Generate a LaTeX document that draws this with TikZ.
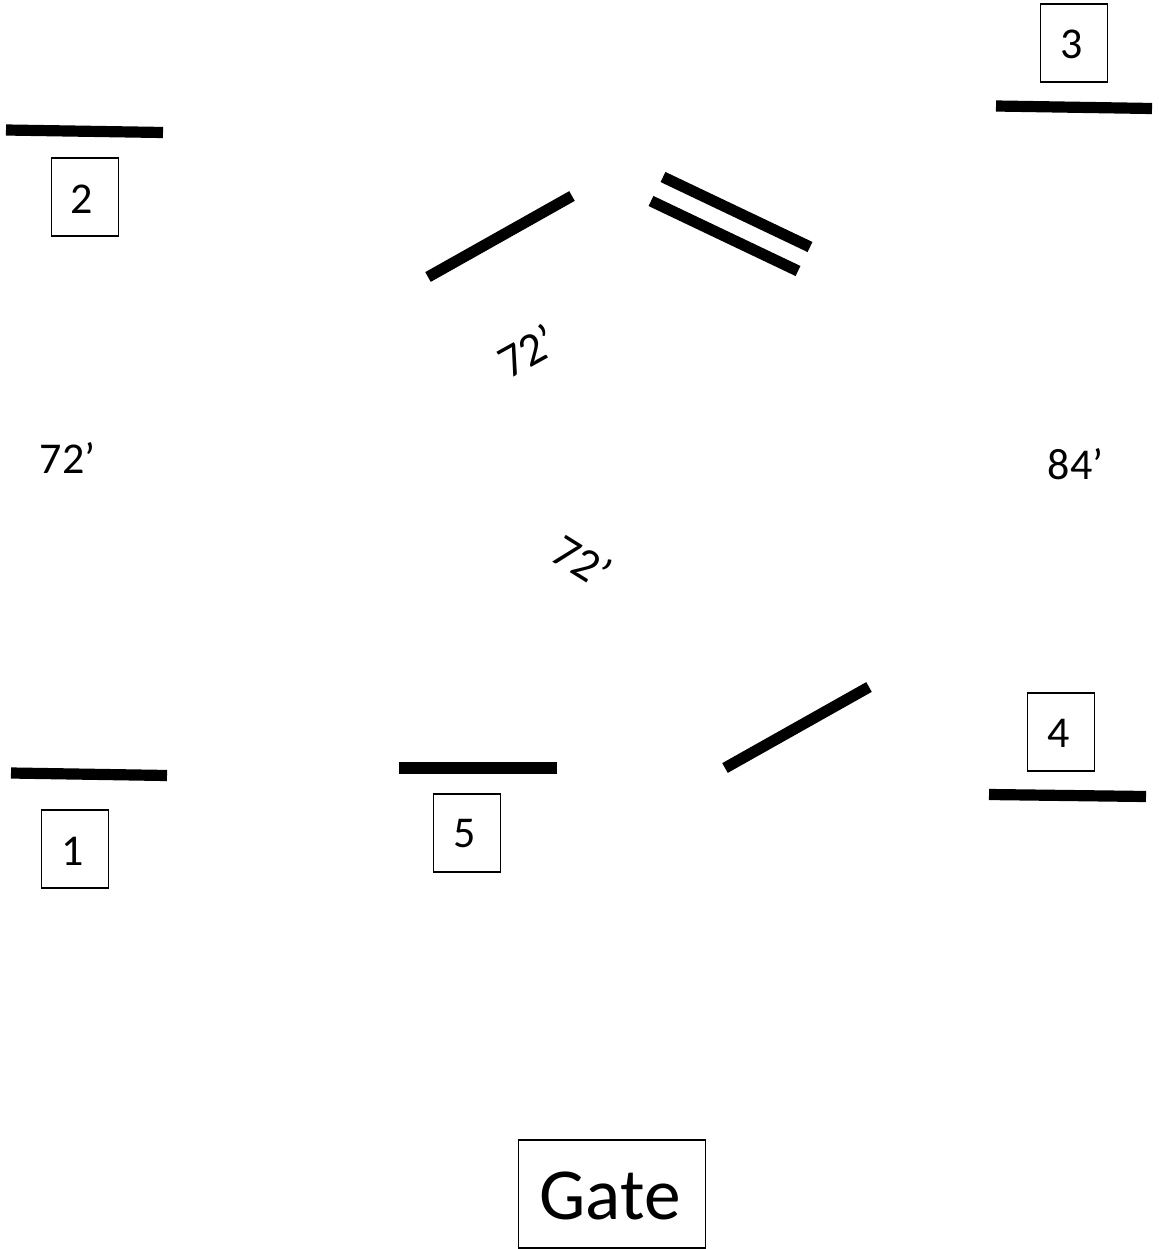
\documentclass[tikz,border=0pt]{standalone}
\usepackage{fontspec}
\setmainfont{Carlito}
\tikzset{
  bar/.style={line width=8.4pt,black},
  numbox/.style={draw=black,line width=1pt,minimum width=50pt,minimum height=58.5pt,inner sep=0pt},
  numtext/.style={inner sep=0pt,font=\fontsize{33}{40}\selectfont},
  gatebox/.style={draw=black,line width=1pt,minimum width=140pt,minimum height=81pt,inner sep=0pt},
  gatetext/.style={inner sep=0pt,font=\fontsize{55}{66}\selectfont},
  dim/.style={inner sep=0pt,font=\fontsize{33}{40}\selectfont},
  dimbig/.style={inner sep=0pt,font=\fontsize{35}{42}\selectfont}
}
\begin{document}
\begin{tikzpicture}[x=0.75pt,y=-0.75pt]
\useasboundingbox (0,0) rectangle (1158,1249);
\draw[bar] (6,130) -- (163,132.5);
\draw[bar] (996,106) -- (1152,108.5);
\draw[bar] (428,277) -- (572,196);
\draw[bar] (663,177) -- (810,247);
\draw[bar] (651,201) -- (798,271);
\draw[bar] (11,773) -- (167,775.5);
\draw[bar] (399,768) -- (557,768);
\draw[bar] (725,768) -- (869,687);
\draw[bar] (989,794.5) -- (1146,796.5);
\node[numbox] (n2) at (85,197) {};
\node[numbox] (n3) at (1074,43) {};
\node[numbox] (n1) at (75,849) {};
\node[numbox] (n5) at (467,833) {};
\node[numbox] (n4) at (1061,732) {};
\node[gatebox] (gate) at (612,1194) {};
\node[numtext] (t2) at (82,199) {2};
\node[numtext] (t3) at (1072,44) {3};
\node[numtext] (t1) at (73,851) {1};
\node[numtext] (t5) at (465,834) {5};
\node[numtext] (t4) at (1059,733) {4};
\node[gatetext] (tg) at (610,1196) {Gate};
\node[dim] (d1) at (67.5,458) {72’};
\node[dim] (d2) at (1075.5,464) {84’};
\node[dimbig,rotate=29] (d3) at (527,351) {72’};
\node[dimbig,rotate=-32] (d4) at (582,561) {72’};
\end{tikzpicture}
\end{document}
